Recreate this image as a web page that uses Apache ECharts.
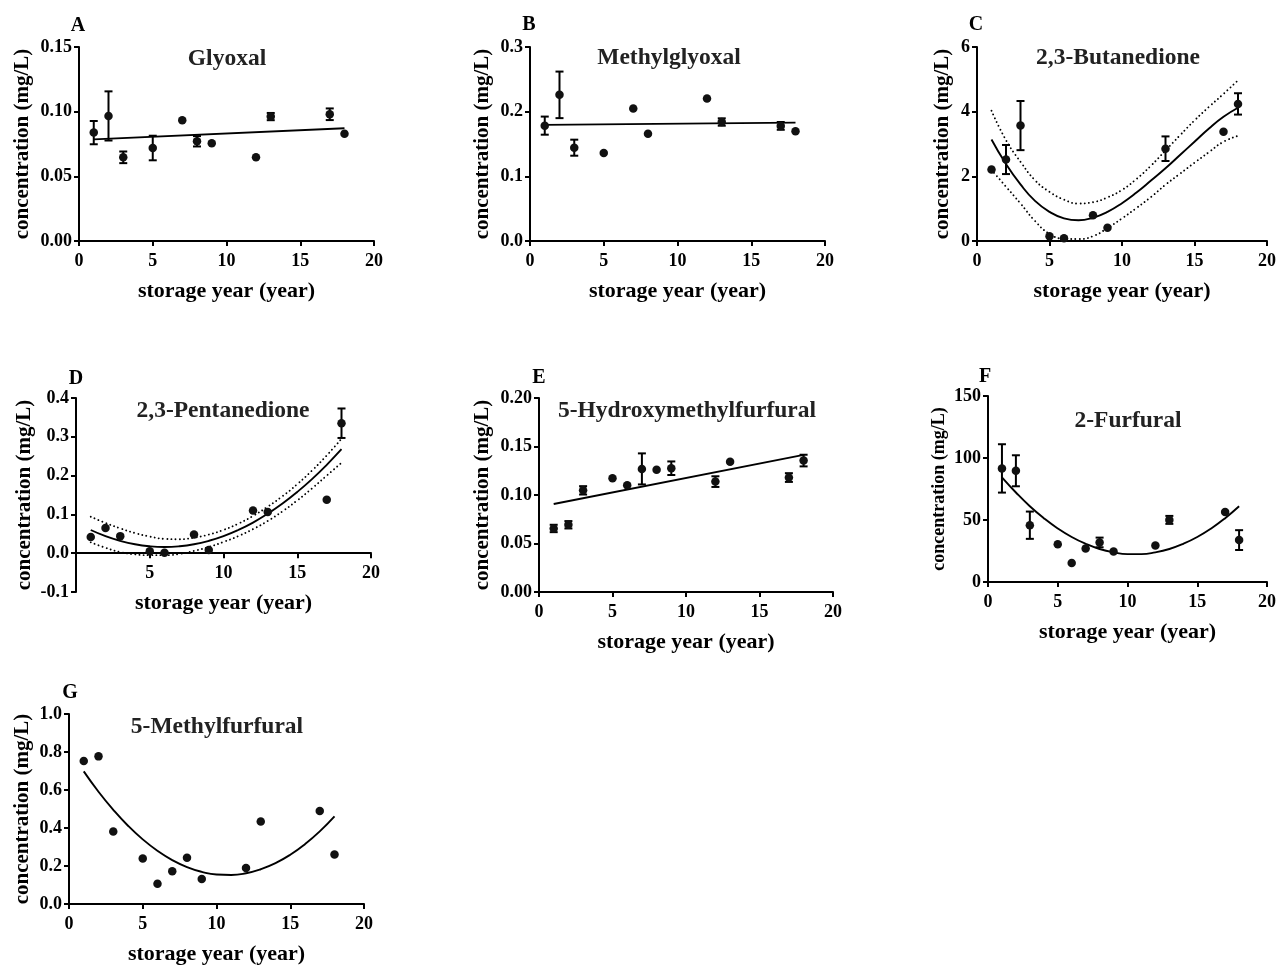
<!DOCTYPE html>
<html>
<head>
<meta charset="utf-8">
<script src="https://cdn.jsdelivr.net/npm/echarts@6/dist/echarts.min.js"></script>
<style>
html,body{margin:0;padding:0;background:#fff;}
#chart{width:1279px;height:966px;}
</style>
</head>
<body>
<div id="chart"></div>
<script>
// ---------- DATA ----------
const years = [1, 2, 3, 5, 6, 7, 8, 9, 12, 13, 17, 18];
const fitYears = [1, 2, 3, 4, 5, 6, 7, 8, 9, 10, 11, 12, 13, 14, 15, 16, 17, 18];
const lineYears = [1, 18];

// A Glyoxal
const glyoxal    = [0.0838, 0.0967, 0.0647, 0.0719, null, 0.0934, 0.0771, 0.0755, 0.0647, 0.0962, 0.0980, 0.0830];
const glyoxalErr = [0.0090, 0.0190, 0.0045, 0.0095, null, 0, 0.0040, 0, 0, 0.0028, 0.0045, 0];
const glyoxalFit = [0.0786, 0.0872];

// B Methylglyoxal
const methylglyoxal    = [0.1784, 0.2260, 0.1443, 0.1360, null, 0.2048, 0.1660, null, 0.2203, 0.1840, 0.1780, 0.1697];
const methylglyoxalErr = [0.0140, 0.0360, 0.0124, 0, null, 0, 0, null, 0, 0.0057, 0.0060, 0];
const methylglyoxalFit = [0.1795, 0.1831];

// C 2,3-Butanedione
const butanedione      = [2.21, 2.52, 3.57, 0.145, 0.083, null, 0.80, 0.41, null, 2.855, 3.38, 4.24];
const butanedioneErr   = [0, 0.45, 0.76, 0, 0, null, 0, 0, null, 0.38, 0, 0.33];
const butanedioneFit   = [3.14, 2.38, 1.75, 1.24, 0.90, 0.70, 0.64, 0.72, 0.90, 1.17, 1.50, 1.87, 2.25, 2.66, 3.07, 3.48, 3.84, 4.12];
const butanedioneUpper = [4.03, 3.12, 2.45, 1.88, 1.52, 1.28, 1.16, 1.20, 1.35, 1.58, 1.92, 2.33, 2.80, 3.27, 3.73, 4.15, 4.55, 4.97];
const butanedioneLower = [2.20, 1.68, 1.16, 0.62, 0.22, 0.07, 0.06, 0.15, 0.40, 0.70, 1.02, 1.36, 1.74, 2.08, 2.42, 2.75, 3.07, 3.25];

// D 2,3-Pentanedione
const pentanedione      = [0.0415, 0.0648, 0.0440, 0.0050, 0.0010, null, 0.0480, 0.0080, 0.1100, 0.1060, 0.1380, 0.3350];
const pentanedioneErr   = [0, 0, 0, 0, 0, null, 0, 0, 0, 0, 0, 0.038];
const pentanedioneFit   = [0.0598, 0.0440, 0.0318, 0.0230, 0.0178, 0.0160, 0.0178, 0.0230, 0.0318, 0.0440, 0.0598, 0.0790, 0.1018, 0.1280, 0.1578, 0.1910, 0.2278, 0.2680];
const pentanedioneUpper = [0.094, 0.078, 0.064, 0.052, 0.043, 0.037, 0.036, 0.040, 0.048, 0.060, 0.076, 0.096, 0.120, 0.147, 0.178, 0.213, 0.252, 0.295];
const pentanedioneLower = [0.028, 0.014, 0.003, -0.003, -0.005, -0.005, -0.002, 0.006, 0.016, 0.029, 0.044, 0.062, 0.083, 0.108, 0.136, 0.167, 0.200, 0.233];

// E 5-Hydroxymethylfurfural
const hmf    = [0.0655, 0.0693, 0.1048, 0.1172, 0.1100, 0.1269, 0.1260, 0.1276, 0.1138, 0.1344, 0.1180, 0.1355];
const hmfErr = [0.0038, 0.0038, 0.0043, 0, 0, 0.0160, 0, 0.0070, 0.0055, 0, 0.0045, 0.0060];
const hmfFit = [0.0907, 0.1414];

// F 2-Furfural
const furfural    = [91.6, 89.7, 45.8, 30.5, 15.3, 27.0, 31.9, 24.6, 29.5, 50.1, 56.5, 33.8];
const furfuralErr = [19.5, 12.5, 11.0, 0, 0, 0, 3.9, 0, 0, 3.2, 0, 8.0];
const furfuralFit = [84.4, 72.2, 61.1, 51.5, 43.2, 36.3, 30.8, 26.6, 23.9, 22.5, 22.5, 23.9, 26.6, 30.8, 36.3, 43.2, 51.5, 61.1];

// G 5-Methylfurfural
const methylfurfural    = [0.753, 0.777, 0.381, 0.240, 0.106, 0.172, 0.244, 0.132, 0.190, 0.434, 0.490, 0.261];
const methylfurfuralFit = [0.698, 0.591, 0.496, 0.412, 0.340, 0.280, 0.231, 0.194, 0.169, 0.155, 0.153, 0.162, 0.183, 0.215, 0.259, 0.315, 0.382, 0.461];

// Tick settings
const xTicks = {min: 0, max: 20, interval: 5};

// ---------- LAYOUT ----------
const FONT = "'Liberation Serif', 'Times New Roman', serif";
const INK = '#000000';

const panels = [
  {letter:'A', title:'Glyoxal', vals:glyoxal, errs:glyoxalErr, fitX:lineYears, fit:glyoxalFit,
   grid:{left:79, top:47, width:295, height:194}, y:{min:0, max:0.15, interval:0.05, dec:2},
   titlePos:[227, 59], letterPos:[78, 26], yGap:46, yNameSize:21},
  {letter:'B', title:'Methylglyoxal', vals:methylglyoxal, errs:methylglyoxalErr, fitX:lineYears, fit:methylglyoxalFit,
   grid:{left:530, top:47, width:295, height:194}, y:{min:0, max:0.3, interval:0.1, dec:1},
   titlePos:[669, 58], letterPos:[529, 25], yGap:37, yNameSize:21},
  {letter:'C', title:'2,3-Butanedione', vals:butanedione, errs:butanedioneErr, fitX:fitYears, fit:butanedioneFit,
   upper:butanedioneUpper, lower:butanedioneLower,
   grid:{left:977, top:47, width:294, height:194}, y:{min:0, max:6, interval:2, dec:0},
   titlePos:[1118, 58], letterPos:[976, 25], yGap:24, yNameSize:21},
  {letter:'D', title:'2,3-Pentanedione', vals:pentanedione, errs:pentanedioneErr, fitX:fitYears, fit:pentanedioneFit,
   upper:pentanedioneUpper, lower:pentanedioneLower,
   grid:{left:76, top:398, width:295, height:194}, y:{min:-0.1, max:0.4, interval:0.1, dec:1},
   titlePos:[223, 411], letterPos:[76, 379], yGap:41, yNameSize:21, hideZeroX:true},
  {letter:'E', title:'5-Hydroxymethylfurfural', vals:hmf, errs:hmfErr, fitX:lineYears, fit:hmfFit,
   grid:{left:539, top:398, width:294, height:194}, y:{min:0, max:0.2, interval:0.05, dec:2},
   titlePos:[687, 411], letterPos:[539, 378], yGap:46, yNameSize:21},
  {letter:'F', title:'2-Furfural', vals:furfural, errs:furfuralErr, fitX:fitYears, fit:furfuralFit,
   grid:{left:988, top:396, width:283, height:186}, y:{min:0, max:150, interval:50, dec:0},
   titlePos:[1128, 421], letterPos:[985, 377], yGap:40, yNameSize:18},
  {letter:'G', title:'5-Methylfurfural', vals:methylfurfural, errs:null, fitX:fitYears, fit:methylfurfuralFit,
   grid:{left:69, top:714, width:295, height:194}, y:{min:0, max:1.0, interval:0.2, dec:1},
   titlePos:[217, 727], letterPos:[70, 693], yGap:36, yNameSize:21}
];

const grids = [], xAxes = [], yAxes = [], series = [], graphics = [];

function errRender(params, api) {
  const x = api.value(0), lo = api.value(1), hi = api.value(2);
  const pHi = api.coord([x, hi]);
  const pLo = api.coord([x, lo]);
  const w = 4;
  const st = {stroke: INK, lineWidth: 2};
  return {type:'group', children:[
    {type:'line', shape:{x1:pHi[0], y1:pHi[1], x2:pLo[0], y2:pLo[1]}, style:st},
    {type:'line', shape:{x1:pHi[0]-w, y1:pHi[1], x2:pHi[0]+w, y2:pHi[1]}, style:st},
    {type:'line', shape:{x1:pLo[0]-w, y1:pLo[1], x2:pLo[0]+w, y2:pLo[1]}, style:st}
  ]};
}

panels.forEach((p, i) => {
  grids.push(Object.assign({containLabel:false}, p.grid));
  // if y range spans below zero, put the x axis on the zero line (labels follow it)
  const zeroOffset = p.y.min < 0 ? -(0 - p.y.min) / (p.y.max - p.y.min) * p.grid.height : 0;
  xAxes.push({
    type:'value', gridIndex:i, min:xTicks.min, max:xTicks.max, interval:xTicks.interval,
    offset: zeroOffset,
    name:'storage year (year)', nameLocation:'middle', nameGap:39,
    nameTextStyle:{fontFamily:FONT, fontWeight:'bold', fontSize:22, color:INK},
    axisLine:{show:true, onZero:false, lineStyle:{color:INK, width:2}},
    axisTick:{show:true, length:5, lineStyle:{color:INK, width:2}},
    axisLabel:{fontFamily:FONT, fontWeight:'bold', fontSize:18, color:INK, margin:11,
      formatter: v => (p.hideZeroX && v === 0) ? '' : String(v)},
    splitLine:{show:false}
  });
  yAxes.push({
    type:'value', gridIndex:i, min:p.y.min, max:p.y.max, interval:p.y.interval,
    name:'concentration (mg/L)', nameLocation:'middle', nameRotate:90, nameGap:p.yGap,
    nameTextStyle:{fontFamily:FONT, fontWeight:'bold', fontSize:p.yNameSize, color:INK},
    axisLine:{show:true, onZero:false, lineStyle:{color:INK, width:2}},
    axisTick:{show:true, length:5, lineStyle:{color:INK, width:2}},
    axisLabel:{fontFamily:FONT, fontWeight:'bold', fontSize:18, color:INK, margin:7,
      formatter: v => Number(v).toFixed(p.y.dec)},
    splitLine:{show:false}
  });

  // confidence bands (dotted)
  if (p.upper) {
    [p.upper, p.lower].forEach(arr => {
      series.push({type:'line', xAxisIndex:i, yAxisIndex:i, data:p.fitX.map((x, k) => [x, arr[k]]),
        smooth:true, symbol:'none', silent:true,
        lineStyle:{color:INK, width:1.9, type:[0.01, 4.2], cap:'round'}, z:2});
    });
  }
  // fit
  series.push({type:'line', xAxisIndex:i, yAxisIndex:i, data:p.fitX.map((x, k) => [x, p.fit[k]]),
    smooth:p.fitX.length > 2, symbol:'none', silent:true,
    lineStyle:{color:INK, width:1.9}, z:3});
  // error bars
  if (p.errs) {
    const ed = [];
    years.forEach((x, k) => {
      const v = p.vals[k], e = p.errs[k];
      if (v != null && e) ed.push([x, v - e, v + e]);
    });
    series.push({type:'custom', xAxisIndex:i, yAxisIndex:i, data:ed, renderItem:errRender,
      encode:{x:0, y:[1, 2]}, silent:true, z:4});
  }
  // points
  series.push({type:'scatter', xAxisIndex:i, yAxisIndex:i,
    data:years.map((x, k) => [x, p.vals[k]]).filter(d => d[1] != null),
    symbol:'circle', symbolSize:8.5, itemStyle:{color:'#111111', opacity:1}, silent:true, z:5});

  graphics.push({type:'text', x:p.titlePos[0], y:p.titlePos[1],
    style:{text:p.title, fontFamily:FONT, fontWeight:'bold', fontSize:23.5, fill:'#222', align:'center', verticalAlign:'middle'}});
  graphics.push({type:'text', x:p.letterPos[0], y:p.letterPos[1],
    style:{text:p.letter, fontFamily:FONT, fontWeight:'bold', fontSize:20, fill:INK, align:'center', verticalAlign:'middle'}});
});

const chart = echarts.init(document.getElementById('chart'), null, {renderer:'canvas'});
chart.setOption({
  backgroundColor:'#ffffff',
  animation:false,
  grid:grids, xAxis:xAxes, yAxis:yAxes, series:series, graphic:graphics
});
</script>
</body>
</html>
